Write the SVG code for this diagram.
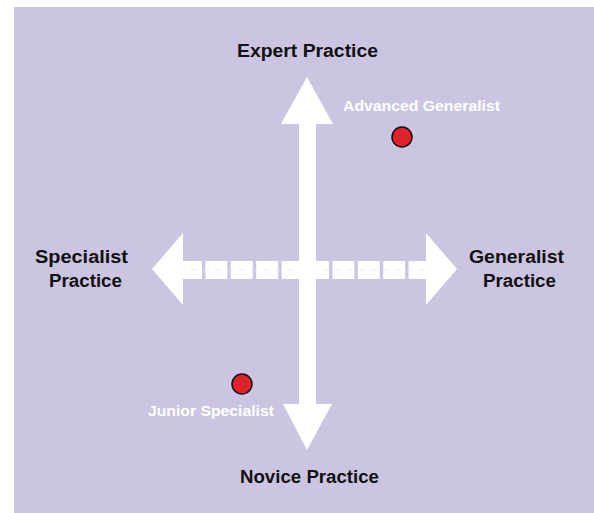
<svg xmlns="http://www.w3.org/2000/svg" width="594" height="513" viewBox="0 0 594 513">
<style>
.lbl{font-family:"Liberation Sans",Arial,sans-serif;font-weight:bold;font-size:18px;fill:#111}
.pt{font-family:"Liberation Sans",Arial,sans-serif;font-weight:bold;font-size:14.5px;fill:#fff}
.dot{fill:#e0232a;stroke:#111;stroke-width:1.5}
.ar{fill:#fff}
</style>
<rect x="14" y="7" width="580" height="506" fill="#cbc5e2"/>
<g id="connectors">
  <g id="h-axis">
    <line x1="179" y1="270" x2="429" y2="270" stroke="#fff" stroke-width="18" stroke-dasharray="22 3.4" stroke-dashoffset="-1"/>
    <line x1="179" y1="270" x2="429" y2="270" stroke="#e6e2f0" stroke-width="0.8" stroke-dasharray="6 6"/>
    <polygon class="ar" points="152,269 183,233 183,305"/>
    <polygon class="ar" points="457,269 426,233 426,305"/>
  </g>
  <g id="v-axis">
    <rect class="ar" x="299" y="120" width="17" height="290"/>
    <polygon class="ar" points="307,77 281,124 333,124"/>
    <polygon class="ar" points="307,450 283,404 332,404"/>
  </g>
</g>
<g id="expert"><text class="lbl" x="237" y="57" textLength="141" lengthAdjust="spacingAndGlyphs">Expert Practice</text></g>
<g id="novice"><text class="lbl" x="240" y="483" textLength="139" lengthAdjust="spacingAndGlyphs">Novice Practice</text></g>
<g id="specialist"><text class="lbl" x="35" y="263" textLength="93" lengthAdjust="spacingAndGlyphs">Specialist</text><text class="lbl" x="49" y="287" textLength="73" lengthAdjust="spacingAndGlyphs">Practice</text></g>
<g id="generalist"><text class="lbl" x="469" y="263" textLength="95" lengthAdjust="spacingAndGlyphs">Generalist</text><text class="lbl" x="483" y="287" textLength="73" lengthAdjust="spacingAndGlyphs">Practice</text></g>
<g id="advanced"><text class="pt" x="343" y="111" textLength="157" lengthAdjust="spacingAndGlyphs">Advanced Generalist</text><circle class="dot" cx="402" cy="137" r="10"/></g>
<g id="junior"><text class="pt" x="148" y="416" textLength="126" lengthAdjust="spacingAndGlyphs">Junior Specialist</text><circle class="dot" cx="242" cy="384" r="10"/></g>
</svg>
